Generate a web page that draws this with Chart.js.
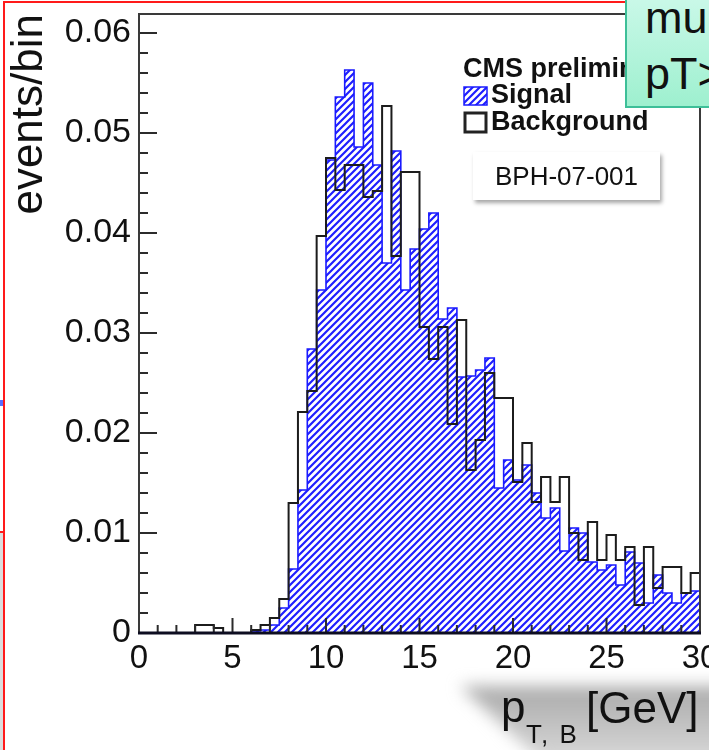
<!DOCTYPE html>
<html>
<head>
<meta charset="utf-8">
<script src="https://cdn.jsdelivr.net/npm/chart.js@4.4.1/dist/chart.umd.min.js"></script>
<style>
  body { margin: 0; background: #fff; overflow: hidden; }
  #wrap { position: relative; width: 709px; height: 750px; overflow: hidden; }
  #c { position: absolute; left: 0; top: 0; }
  #bph {
    position: absolute; left: 473px; top: 152px; width: 187px; height: 48px;
    background: #fff; box-shadow: 2px 3px 4px rgba(0,0,0,0.35);
    font: 26px "Liberation Sans", Arial, sans-serif; color: #111;
    text-align: center; line-height: 48px;
  }
  #cut {
    position: absolute; left: 625px; top: -12px; width: 120px; height: 120px;
    background: linear-gradient(#cdf9ea, #9ef0cf);
    border: 2px solid #3dbf98; box-sizing: border-box;
    font: 45px "Liberation Sans", Arial, sans-serif; color: #111;
    padding-left: 18px; line-height: 56px; white-space: nowrap;
  }
</style>
</head>
<body>
<div id="wrap">
  <canvas id="c" width="709" height="750"></canvas>
  <div id="bph">BPH-07-001</div>
  <div id="cut">mu<br>pT&gt;</div>
</div>
<script>
// lower edges of the 0.5 GeV bins
const binLow = [0, 0.5, 1, 1.5, 2, 2.5, 3, 3.5, 4, 4.5, 5, 5.5, 6, 6.5, 7, 7.5, 8, 8.5, 9, 9.5,
  10, 10.5, 11, 11.5, 12, 12.5, 13, 13.5, 14, 14.5, 15, 15.5, 16, 16.5, 17, 17.5, 18, 18.5, 19, 19.5,
  20, 20.5, 21, 21.5, 22, 22.5, 23, 23.5, 24, 24.5, 25, 25.5, 26, 26.5, 27, 27.5, 28, 28.5, 29, 29.5];
const xMax = 30;

const signal = [
  0, 0, 0, 0, 0, 0, 0, 0, 0, 0,
  0, 0, 0.0002, 0.0003, 0.0008, 0.0025, 0.0064, 0.0143, 0.0284, 0.0343,
  0.0473, 0.0536, 0.0563, 0.0486, 0.0550, 0.0468, 0.0370, 0.0482, 0.0343, 0.0384,
  0.0404, 0.0420, 0.0314, 0.0325, 0.0256, 0.0257, 0.0263, 0.0275, 0.0145, 0.0173,
  0.0153, 0.0168, 0.0140, 0.0115, 0.0125, 0.0082, 0.0105, 0.0100, 0.0071, 0.0063,
  0.0068, 0.0048, 0.0081, 0.0070, 0.0030, 0.0058, 0.0040, 0.0030, 0.0040, 0.0042
];

const background = [
  0, 0, 0, 0, 0, 0, 0.0008, 0.0008, 0.0005, 0,
  0, 0, 0.0003, 0.0008, 0.0015, 0.0034, 0.0130, 0.0221, 0.0242, 0.0397,
  0.0475, 0.0443, 0.0468, 0.0468, 0.0436, 0.0442, 0.0527, 0.0377, 0.0461, 0.0461,
  0.0306, 0.0274, 0.0306, 0.0209, 0.0313, 0.0163, 0.0193, 0.0260, 0.0235, 0.0235,
  0.0151, 0.0190, 0.0131, 0.0156, 0.0131, 0.0156, 0.0100, 0.0073, 0.0111, 0.0073,
  0.0098, 0.0073, 0.0086, 0.0028, 0.0086, 0.0045, 0.0066, 0.0066, 0.0040, 0.0060
];

const FONT = '"Liberation Sans", Arial, sans-serif';

function histPoints(vals) {
  const pts = binLow.map((x, i) => ({ x: x, y: vals[i] }));
  pts.push({ x: xMax, y: vals[vals.length - 1] });
  return pts;
}

// blue "/" hatch like ROOT fill style 3004
function makeHatch(ctx) {
  const p = document.createElement('canvas');
  p.width = 7; p.height = 7;
  const g = p.getContext('2d');
  g.strokeStyle = '#1f1fff';
  g.lineWidth = 2.2;
  g.beginPath();
  g.moveTo(-1, 8); g.lineTo(8, -1);
  g.moveTo(-2, 2); g.lineTo(2, -2);
  g.moveTo(5, 9); g.lineTo(9, 5);
  g.stroke();
  return ctx.createPattern(p, 'repeat');
}

const ctx = document.getElementById('c').getContext('2d');
const hatch = makeHatch(ctx);

// frame + inward ticks, ROOT style
const framePlugin = {
  id: 'frame',
  afterDatasetsDraw(chart) {
    const { ctx, chartArea: a, scales: { x, y } } = chart;
    ctx.save();
    ctx.strokeStyle = '#2b2b2b';
    ctx.lineWidth = 2;
    ctx.beginPath();
    for (let v = 0; v <= 30; v++) {
      const px = x.getPixelForValue(v);
      const len = v % 5 === 0 ? 15 : 8;
      ctx.moveTo(px, a.bottom); ctx.lineTo(px, a.bottom - len);
    }
    for (let k = 0; k <= 30; k++) {
      const py = y.getPixelForValue(k * 0.002);
      const len = k % 5 === 0 ? 18 : 9;
      ctx.moveTo(a.left, py); ctx.lineTo(a.left + len, py);
    }
    ctx.stroke();

    // frame
    ctx.strokeStyle = '#3a3a3a';
    ctx.lineWidth = 2;
    ctx.beginPath();
    ctx.moveTo(a.left, a.bottom); ctx.lineTo(a.left, a.top);
    ctx.lineTo(a.right, a.top); ctx.lineTo(a.right, a.bottom);
    ctx.stroke();
    ctx.strokeStyle = '#0d0d20';
    ctx.lineWidth = 3;
    ctx.beginPath();
    ctx.moveTo(a.left - 1, a.bottom); ctx.lineTo(a.right + 1, a.bottom);
    ctx.stroke();
    ctx.restore();
  },
  afterDraw(chart) {
    const { ctx } = chart;
    const ds = chart.data.datasets;
    ctx.save();

    // bits of the slide around the plot
    ctx.fillStyle = '#dcdcdc';
    ctx.fillRect(0, 533, 3, 217);
    ctx.fillStyle = '#5a6cff';
    ctx.fillRect(0, 400, 3, 6);
    ctx.strokeStyle = '#ff1a1a';
    ctx.lineWidth = 2;
    ctx.beginPath();
    ctx.moveTo(4, 750); ctx.lineTo(4, 2); ctx.lineTo(709, 2);
    ctx.moveTo(0, 532); ctx.lineTo(4, 532);
    ctx.stroke();

    // legend
    ctx.fillStyle = '#111';
    ctx.textBaseline = 'alphabetic';
    ctx.font = 'bold 27px ' + FONT;
    ctx.fillText('CMS preliminary', 463, 77);
    ctx.fillStyle = ds[0].backgroundColor;
    ctx.fillRect(464, 87, 23, 18);
    ctx.strokeStyle = ds[0].borderColor;
    ctx.lineWidth = 1.5;
    ctx.strokeRect(464, 87, 23, 18);
    ctx.fillStyle = '#111';
    ctx.fillText(ds[0].label, 491, 103);
    ctx.strokeStyle = '#222';
    ctx.lineWidth = 3;
    ctx.strokeRect(465, 113, 21, 19);
    ctx.fillText(ds[1].label, 491, 130);

    // x axis title with grey shadow
    ctx.save();
    ctx.filter = 'blur(8px)';
    const gr = ctx.createLinearGradient(0, 684, 0, 760);
    gr.addColorStop(0, '#a8a8a8');
    gr.addColorStop(1, '#d8d8d8');
    ctx.fillStyle = gr;
    ctx.beginPath();
    ctx.moveTo(460, 686); ctx.lineTo(730, 686); ctx.lineTo(730, 765); ctx.lineTo(545, 765);
    ctx.closePath();
    ctx.fill();
    ctx.restore();
    ctx.fillStyle = '#111';
    ctx.font = '44px ' + FONT;
    ctx.fillText('p', 501, 722);
    ctx.fillText('[GeV]', 586, 723);
    ctx.font = '26px ' + FONT;
    ctx.letterSpacing = '2px';
    ctx.fillText('T, B', 526, 743);
    ctx.restore();
  }
};

new Chart(ctx, {
  type: 'line',
  data: {
    datasets: [
      {
        label: 'Signal',
        data: histPoints(signal),
        stepped: 'before',
        borderColor: '#1a1aff',
        borderWidth: 1.6,
        backgroundColor: hatch,
        fill: 'origin',
        pointRadius: 0,
        order: 2
      },
      {
        label: 'Background',
        data: histPoints(background),
        stepped: 'before',
        borderColor: '#1c1c1c',
        borderWidth: 2,
        fill: false,
        pointRadius: 0,
        order: 1
      }
    ]
  },
  options: {
    responsive: false,
    animation: false,
    layout: { padding: { top: 14, right: 9, left: 0, bottom: 0 } },
    plugins: { legend: { display: false }, tooltip: { enabled: false } },
    scales: {
      x: {
        type: 'linear',
        min: 0,
        max: xMax,
        grid: { display: false, drawTicks: false },
        border: { display: false },
        ticks: { stepSize: 5, maxRotation: 0, padding: 6, color: '#111', font: { family: FONT, size: 33 } },
        afterFit(s) { s.height = 117; s.paddingLeft = 0; s.paddingRight = 0; }
      },
      y: {
        min: 0,
        max: 0.0619,
        grid: { display: false, drawTicks: false },
        border: { display: false },
        ticks: { stepSize: 0.01, includeBounds: false, padding: 8, color: '#111', font: { family: FONT, size: 34 } },
        title: {
          display: true, text: 'events/bin', align: 'end', color: '#111',
          font: { family: FONT, size: 44 }, padding: { top: 3, bottom: 0 }
        },
        afterFit(s) { s.width = 139; s.paddingTop = 0; s.paddingBottom = 0; }
      }
    }
  },
  plugins: [framePlugin]
});
</script>
</body>
</html>
